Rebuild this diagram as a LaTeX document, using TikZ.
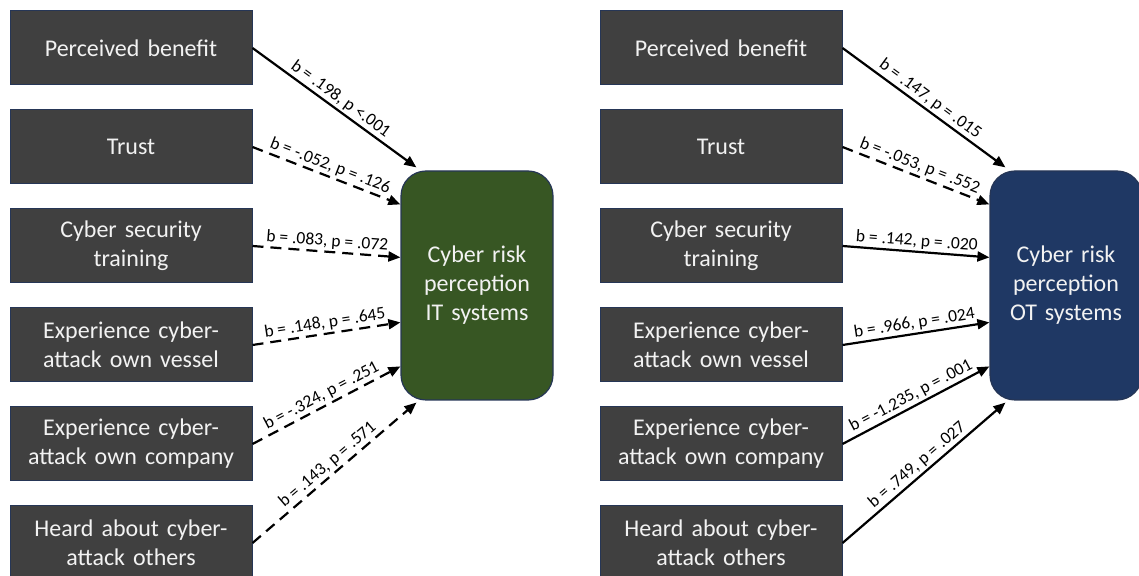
\documentclass[tikz,border=0pt]{standalone}
\usepackage{fontspec}
\setmainfont{Carlito}
\usepackage{xcolor}
\usetikzlibrary{positioning, arrows.meta, calc}

\definecolor{boxgray}{RGB}{64,64,64}
\definecolor{boxedge}{RGB}{38,54,86}
\definecolor{itgreen}{RGB}{55,86,35}
\definecolor{otnavy}{RGB}{31,56,100}
\definecolor{boxtext}{RGB}{242,242,242}

\begin{document}
\begin{tikzpicture}[x=1pt, y=1pt,
  factor/.style={rectangle, draw=boxedge, line width=1pt, fill=boxgray,
    text=boxtext, align=center, text width=232pt, minimum width=242pt,
    minimum height=74pt, inner sep=0pt, font=\fontsize{24}{29}\selectfont},
  outcome/.style={rectangle, rounded corners=25pt, draw=boxedge,
    line width=1.2pt, text=boxtext, align=center, text width=142pt,
    minimum width=152pt, minimum height=229pt, inner sep=0pt,
    font=\fontsize{24}{29}\selectfont},
  sig/.style={-{Triangle[length=12pt, width=10pt]}, line width=2.2pt},
  nonsig/.style={sig, dash pattern=on 11pt off 7pt},
  coef/.style={midway, sloped, above, inner sep=2pt,
    font=\fontsize{17.5}{20}\selectfont}
]
  \useasboundingbox (0,0) rectangle (1139,575);

  % IT systems model
  \node[factor] (benefit) at (131,527) {Perceived benefit};
  \node[factor, below=24pt of benefit] (trust) {Trust};
  \node[factor, below=24pt of trust] (training) {Cyber security\\training};
  \node[factor, below=24pt of training] (vessel) {Experience cyber-\\attack own vessel};
  \node[factor, below=24pt of vessel] (company) {Experience cyber-\\attack own company};
  \node[factor, below=24pt of company] (others) {Heard about cyber-\\attack others};
  \node[outcome, fill=itgreen] (it) at (477,289.5) {Cyber risk\\perception\\IT systems};

  \draw[sig] (benefit.east) -- ([shift={(16,3)}]it.north west)
    node[coef] {b = .198, p <.001};
  \draw[nonsig] (trust.east) -- ([shift={(0,-34)}]it.north west)
    node[coef] {b = -.052, p = .126};
  \draw[nonsig] (training.east) -- ([shift={(0,-87)}]it.north west)
    node[coef] {b = .083, p = .072};
  \draw[nonsig] (vessel.east) -- ([shift={(0,-152)}]it.north west)
    node[coef] {b = .148, p = .645};
  \draw[nonsig] (company.east) -- ([shift={(0,-196)}]it.north west)
    node[coef] {b = -.324, p = .251};
  \draw[nonsig] (others.east) -- ([shift={(16,-2)}]it.south west)
    node[coef] {b = .143, p = .571};

  % OT systems model
  \node[factor] (benefit2) at (721,527) {Perceived benefit};
  \node[factor, below=24pt of benefit2] (trust2) {Trust};
  \node[factor, below=24pt of trust2] (training2) {Cyber security\\training};
  \node[factor, below=24pt of training2] (vessel2) {Experience cyber-\\attack own vessel};
  \node[factor, below=24pt of vessel2] (company2) {Experience cyber-\\attack own company};
  \node[factor, below=24pt of company2] (others2) {Heard about cyber-\\attack others};
  \node[outcome, fill=otnavy] (ot) at (1066,289.5) {Cyber risk\\perception\\OT systems};

  \draw[sig] (benefit2.east) -- ([shift={(16,3)}]ot.north west)
    node[coef] {b = .147, p = .015};
  \draw[nonsig] (trust2.east) -- ([shift={(0,-34)}]ot.north west)
    node[coef] {b = -.053, p = .552};
  \draw[sig] (training2.east) -- ([shift={(0,-87)}]ot.north west)
    node[coef] {b = .142, p = .020};
  \draw[sig] (vessel2.east) -- ([shift={(0,-152)}]ot.north west)
    node[coef] {b = .966, p = .024};
  \draw[sig] (company2.east) -- ([shift={(0,-196)}]ot.north west)
    node[coef] {b = -1.235, p = .001};
  \draw[sig] (others2.east) -- ([shift={(16,-2)}]ot.south west)
    node[coef] {b = .749, p = .027};
\end{tikzpicture}
\end{document}
